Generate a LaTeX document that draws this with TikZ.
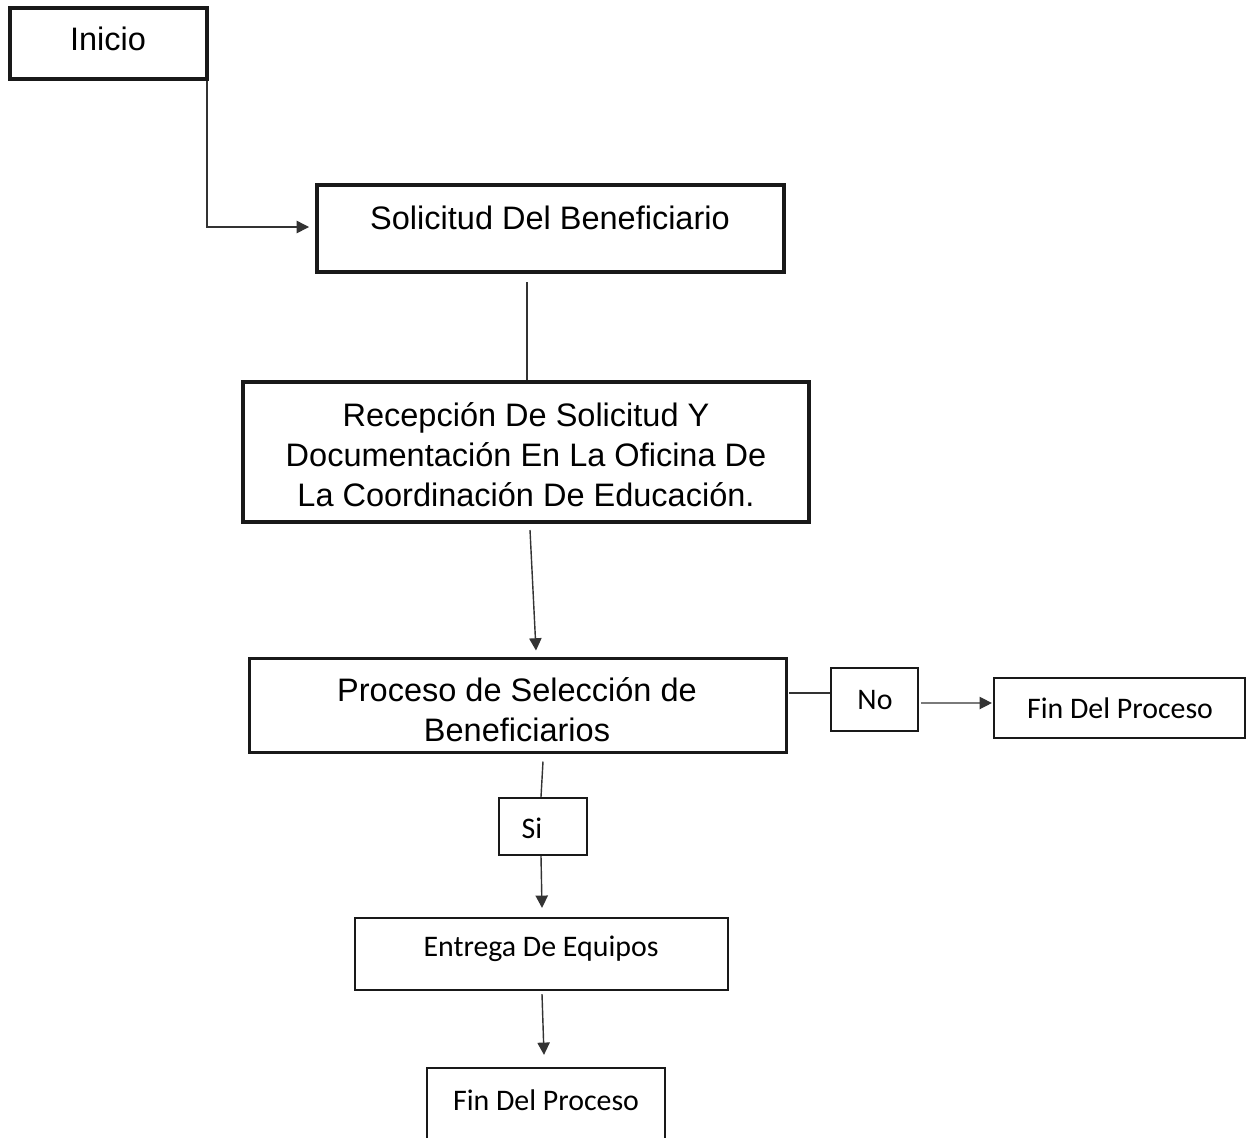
\documentclass[tikz,border=0pt]{standalone}
\usepackage{fontspec}
\setmainfont{Liberation Sans}
\newfontfamily\calib{Carlito}
\usetikzlibrary{calc,arrows.meta}
\begin{document}
\begin{tikzpicture}[x=0.02cm,y=-0.02cm,
  boxa/.style={draw=black!90, line width=2.3pt, rectangle, inner sep=0pt},
  boxb/.style={draw=black!90, line width=1.7pt, rectangle, inner sep=0pt},
  boxc/.style={draw=black!90, line width=1.3pt, rectangle, inner sep=0pt},
  txa/.style={font=\fontsize{18.5}{22.8}\selectfont, align=center, inner sep=0pt},
  txc/.style={font=\calib\fontsize{17}{20}\selectfont, inner sep=0pt},
  conn/.style={draw=black!80, line width=0.8pt},
  arr/.style={conn, -{Triangle[length=7pt,width=7pt]}}]
\clip (0,0) rectangle (1247,1137);
\fill[white] (0,0) rectangle (1247,1137);
% boxes
\node[boxa, minimum width=3.94cm, minimum height=1.42cm] (inicio) at (108.5,43.5) {};
\node[boxa, minimum width=9.34cm, minimum height=1.74cm] (sol) at (550.5,228.5) {};
\node[boxa, minimum width=11.32cm, minimum height=2.8cm] (rec) at (526,452) {};
\node[boxb, minimum width=10.76cm, minimum height=1.88cm] (proc) at (518,705) {};
\node[boxc, minimum width=1.74cm, minimum height=1.26cm] (no) at (874.5,699.5) {};
\node[boxc, minimum width=5.02cm, minimum height=1.2cm] (fin1) at (1119.5,708) {};
\node[boxc, minimum width=1.76cm, minimum height=1.14cm] (si) at (543,826.5) {};
\node[boxc, minimum width=7.46cm, minimum height=1.44cm] (ent) at (541.5,954) {};
\node[boxc, minimum width=4.76cm, minimum height=1.64cm] (fin2) at (546,1109) {};
% texts
\node[txa] (tinicio) at (108,39) {Inicio};
\node[txa] (tsol) at (550,218) {Solicitud Del Beneficiario};
\node[txa] (trec) at (526,455) {Recepción De Solicitud Y\\Documentación En La Oficina De\\La Coordinación De Educación.};
\node[txa] (tproc) at (517,710) {Proceso de Selección de\\Beneficiarios};
\node[txc] (tno) at (875,700) {No};
\node[txc] (tfin1) at (1120,708) {Fin Del Proceso};
\node[txc] (tsi) at (532,828) {Si};
\node[txc] (tent) at (541,949) {Entrega De Equipos};
\node[txc] (tfin2) at (546,1100) {Fin Del Proceso};
% connectors
\draw[arr] ($(inicio.south east)+(-2,0)$) |- ($(sol.west)+(-6,-1.5)$);
\draw[conn] ($(sol.south -| rec.north)+(1,8)$) -- ($(rec.north)+(1,0)$);
\draw[arr] ($(rec.south)+(4,6)$) -- ($(proc.north)+(18,-6)$);
\draw[conn] ($(proc.east)+(1,-12)$) -- ($(no.west)+(0,-6.5)$);
\draw[arr] ($(no.east)+(2,3.5)$) -- ($(fin1.west)+(-1,-5)$);
\draw[conn] ($(proc.south)+(25,8)$) -- ($(si.north)+(-2,0)$);
\draw[arr] ($(si.south)+(-2,0)$) -- ($(ent.north)+(0.5,-9)$);
\draw[arr] ($(ent.south)+(0.5,3)$) -- ($(fin2.north)+(-2,-12)$);
\end{tikzpicture}
\end{document}
